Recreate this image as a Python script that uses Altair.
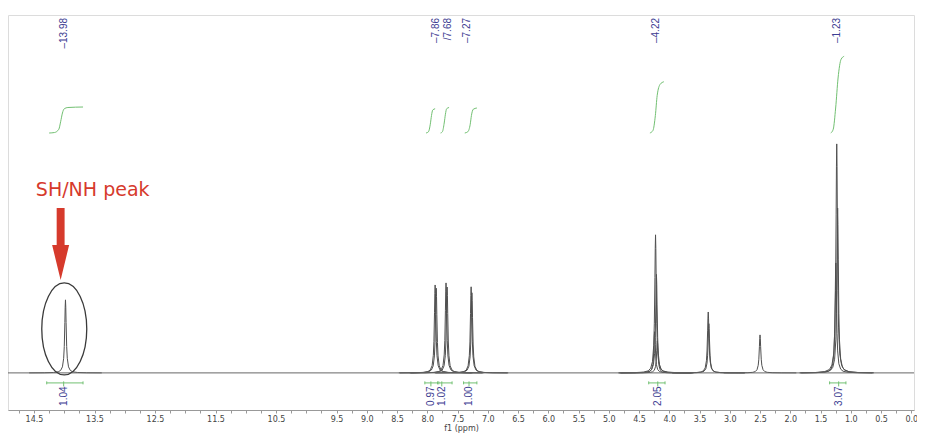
import altair as alt
import pandas as pd

# ---- spectrum component lines (ppm, height; 1.23 ppm line = 100) ----
line_ppm = [13.98, 7.870, 7.852, 7.690, 7.672, 7.275, 7.262,
            4.242, 4.227, 4.212, 4.197, 3.356, 3.346, 2.50,
            1.247, 1.232, 1.217]
line_height = [31.9, 38.4, 37.0, 39.3, 37.5, 37.6, 35.0,
               18.0, 60.3, 43.0, 14.0, 26.6, 21.5, 16.6,
               48.0, 100.0, 72.0]
# line-shape profile read as (offset ppm, fraction of height)
shape_offset = [-0.6, -0.35, -0.2, -0.12, -0.08, -0.05, -0.03, -0.02, -0.01, -0.005, 0.0,
                0.005, 0.01, 0.02, 0.03, 0.05, 0.08, 0.12, 0.2, 0.35, 0.6]
shape_frac = [0.0006, 0.0018, 0.0056, 0.015, 0.034, 0.083, 0.2, 0.36, 0.69, 0.9, 1.0,
              0.9, 0.69, 0.36, 0.2, 0.083, 0.034, 0.015, 0.0056, 0.0018, 0.0006]
baseline_ppm = [14.93, -0.045]
baseline_val = [0.0, 0.0]

# ---- peak labels ----
peak_label_text = ["\u201313.98", "\u20137.86", "/7.68", "\u20137.27", "\u20134.22", "\u20131.23"]
peak_label_ppm = [14.01, 7.86, 7.65, 7.34, 4.22, 1.23]

# ---- integrals ----
int_values = ["1.04", "0.97", "1.02", "1.00", "2.05", "3.07"]
int_curve_ppm = [
    [14.25, 14.16, 14.09, 14.06, 14.03, 14.00, 13.94, 13.69],
    [8.02, 7.98, 7.95, 7.93, 7.91, 7.87],
    [7.78, 7.75, 7.72, 7.70, 7.68, 7.64],
    [7.38, 7.33, 7.29, 7.27, 7.24, 7.18],
    [4.32, 4.27, 4.23, 4.20, 4.15, 4.09],
    [1.33, 1.29, 1.25, 1.21, 1.16, 1.11],
]
int_curve_val = [
    [0.0, 0.02, 0.15, 0.45, 0.80, 0.97, 1.02, 1.04],
    [0.0, 0.05, 0.35, 0.70, 0.92, 0.97],
    [0.0, 0.05, 0.40, 0.75, 0.97, 1.02],
    [0.0, 0.05, 0.35, 0.70, 0.95, 1.00],
    [0.0, 0.10, 0.70, 1.50, 1.95, 2.05],
    [0.0, 0.15, 1.00, 2.20, 2.95, 3.07],
]
bracket_left = [14.29, 8.04, 7.81, 7.40, 4.34, 1.35]
bracket_right = [13.69, 7.83, 7.59, 7.18, 4.07, 1.08]
int_label_ppm = [14.01, 7.94, 7.76, 7.31, 4.19, 1.20]

tick_vals = [round(14.75 - 0.25 * i, 2) for i in range(60)]
tick_labels = [14.5, 13.5, 12.5, 11.5, 10.5, 9.5, 9.0, 8.5, 8.0, 7.5, 7.0, 6.5,
               6.0, 5.5, 5.0, 4.5, 4.0, 3.5, 3.0, 2.5, 2.0, 1.5, 1.0, 0.5, 0.0]

# ---- tables ----
rows = []
for i, (p, h) in enumerate(zip(line_ppm, line_height)):
    for k, (o, f) in enumerate(zip(shape_offset, shape_frac)):
        rows.append({"line": i, "ord": k, "ppm": p + o, "y": h * f})
spec_df = pd.DataFrame(rows)
base_df = pd.DataFrame({"ppm": baseline_ppm, "y": baseline_val})

irows = []
for i, (ps, vs) in enumerate(zip(int_curve_ppm, int_curve_val)):
    for k, (p, v) in enumerate(zip(ps, vs)):
        irows.append({"int": i, "ord": k, "ppm": p, "v": v})
int_df = pd.DataFrame(irows)

BR_Y, CAP_TOP, CAP_BOT, LBL_Y = -4.37, -3.7, -5.0, -5.9
br_df = pd.DataFrame({"l": bracket_left, "r": bracket_right, "c": int_label_ppm,
                      "t": int_values, "y": BR_Y, "y1": CAP_TOP, "y2": CAP_BOT, "yl": LBL_Y})
pl_df = pd.DataFrame({"ppm": peak_label_ppm, "t": peak_label_text, "y": 155.0})
red_df = pd.DataFrame({"ppm": [13.53], "y": [79.9], "t": ["SH/NH peak"]})
arrow_df = pd.DataFrame({"ppm": [14.06], "y": [56.3]})
ell_df = pd.DataFrame({"ppm": [14.0], "y": [19.2]})

xs = alt.Scale(domain=[-0.045, 14.93], reverse=True, nice=False, zero=False)
ys = alt.Scale(domain=[-16.2, 156.3], nice=False, zero=False)
yi = alt.Scale(domain=[-11.08, 4.72], nice=False, zero=False)

label_list = "[" + ",".join(str(v) for v in tick_labels) + "]"
x_axis = alt.Axis(values=tick_vals,
                  labelExpr=f"indexof({label_list}, datum.value) >= 0 ? format(datum.value, '.1f') : ''",
                  title="f1 (ppm)", grid=False, tickSize=3, labelPadding=2,
                  labelFont="DejaVu Sans", labelFontSize=8, labelColor="#444",
                  labelOverlap=False, labelFlush=False,
                  titleFont="DejaVu Sans", titleFontSize=8, titleFontWeight="normal",
                  titleColor="#444", titlePadding=1,
                  domainColor="#999", tickColor="#999")

X = lambda f: alt.X(f, type="quantitative", scale=xs, axis=x_axis)
Y = lambda f: alt.Y(f, type="quantitative", scale=ys, axis=None)

spec = alt.Chart(spec_df).mark_line(color="#505050", strokeWidth=1).encode(
    x=X("ppm"), y=Y("y"), detail="line:N", order="ord:Q")
base = alt.Chart(base_df).mark_line(color="#666666", strokeWidth=1).encode(x=X("ppm"), y=Y("y"))

green = "#72c072"
integ = alt.Chart(int_df).mark_line(color=green, strokeWidth=1, interpolate="monotone").encode(
    x=X("ppm"), y=alt.Y("v:Q", scale=yi, axis=None), detail="int:N", order="ord:Q")

br = alt.Chart(br_df).mark_rule(color=green, strokeWidth=1).encode(x=X("l"), x2="r", y=Y("y"))
cap_l = alt.Chart(br_df).mark_rule(color=green, strokeWidth=1).encode(x=X("l"), y=Y("y1"), y2="y2")
cap_r = alt.Chart(br_df).mark_rule(color=green, strokeWidth=1).encode(x=X("r"), y=Y("y1"), y2="y2")
cap_c = alt.Chart(br_df).mark_rule(color=green, strokeWidth=1).encode(x=X("c"), y=Y("y1"), y2="yl")

blue = "#3d3d92"
int_lbl = alt.Chart(br_df).mark_text(angle=270, align="right", baseline="middle", color=blue,
                                     font="Liberation Sans", fontSize=10).encode(
    x=X("c"), y=Y("yl"), text="t:N")
peak_lbl = alt.Chart(pl_df).mark_text(angle=270, align="right", baseline="middle", color=blue,
                                      font="Liberation Sans", fontSize=10).encode(
    x=X("ppm"), y=Y("y"), text="t:N")

red = "#d63a2c"
red_txt = alt.Chart(red_df).mark_text(color=red, font="DejaVu Sans", fontSize=19,
                                      align="center", baseline="middle").encode(
    x=X("ppm"), y=Y("y"), text="t:N")
arrow_path = "M-0.11,-1 L0.11,-1 L0.11,0.03 L0.236,0.03 L0,1 L-0.236,0.03 L-0.11,0.03 Z"
arrow = alt.Chart(arrow_df).mark_point(shape=arrow_path, size=5184, filled=True, color=red,
                                       opacity=1, strokeWidth=0).encode(x=X("ppm"), y=Y("y"))
ell_path = "M-0.489,0 A0.489,1 0 1,0 0.489,0 A0.489,1 0 1,0 -0.489,0 Z"
ellipse = alt.Chart(ell_df).mark_point(shape=ell_path, size=8464, filled=False, color="#3a3a3a",
                                       opacity=1, strokeWidth=1.3).encode(x=X("ppm"), y=Y("y"))

chart = alt.layer(spec, base, integ, br, cap_l, cap_r, cap_c, int_lbl, peak_lbl,
                  red_txt, arrow, ellipse).resolve_scale(y="independent").properties(
    width=906, height=395,
    padding={"left": 0, "top": 7, "right": 3, "bottom": 24},
    autosize=alt.AutoSizeParams(type="none"),
    background="white",
).configure_view(stroke="#dcdcdc")

chart.save("out.html", embed_options={"renderer": "svg", "actions": False})
